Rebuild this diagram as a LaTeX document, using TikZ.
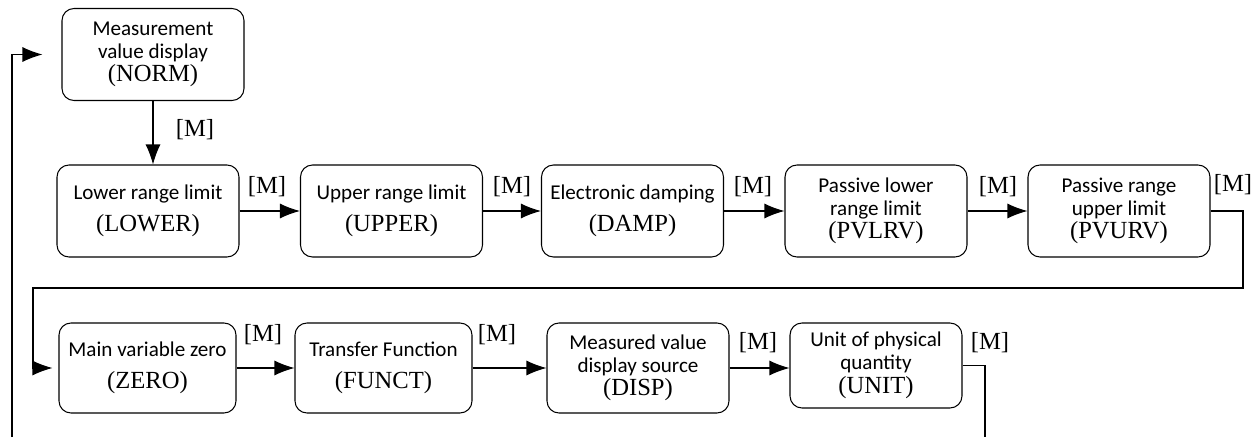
\documentclass[tikz,border=0pt]{standalone}
\usepackage{fontspec}
\setmainfont{Carlito}
\newfontfamily\codefont{Liberation Serif}
\usetikzlibrary{calc}
\usetikzlibrary{shapes,arrows.meta}

\newcommand{\modecode}[1]{{\codefont\fontsize{14}{13}\selectfont #1}}

\tikzset{
  menubox/.style={draw, line width=0.6pt, rounded corners=0.24cm,
    minimum width=3.64cm, minimum height=1.84cm, inner sep=2pt,
    align=center, font=\fontsize{12}{13}\selectfont},
  mlabel/.style={font=\codefont\fontsize{14}{16}\selectfont, inner sep=0pt},
  flow/.style={line width=0.6pt, -{Latex[length=0.4cm,width=0.3cm]}}
}

\begin{document}
\begin{tikzpicture}
    \useasboundingbox (0,0) rectangle (25.2,8.74);

    \node [menubox] (norm) at (3.06, 7.65) {Measurement\\value display\\\modecode{(NORM)}};

    \node [menubox] (lower) at (2.96, 4.52) {Lower range limit\\[5pt]\modecode{(LOWER)}};
    \node [menubox] (upper) at (7.83, 4.52) {Upper range limit\\[5pt]\modecode{(UPPER)}};
    \node [menubox] (damp) at (12.65, 4.52) {Electronic damping\\[5pt]\modecode{(DAMP)}};
    \node [menubox] (pvlrv) at (17.52, 4.52) {Passive lower\\range limit\\\modecode{(PVLRV)}};
    \node [menubox] (pvurv) at (22.38, 4.52) {Passive range\\upper limit\\\modecode{(PVURV)}};

    \node [menubox, minimum width=3.54cm, minimum height=1.80cm] (zero) at (2.95, 1.38) {Main variable zero\\[5pt]\modecode{(ZERO)}};
    \node [menubox, minimum width=3.54cm, minimum height=1.80cm] (funct) at (7.67, 1.38) {Transfer Function\\[5pt]\modecode{(FUNCT)}};
    \node [menubox, minimum height=1.80cm] (disp) at (12.76, 1.38) {Measured value\\display source\\\modecode{(DISP)}};
    \node [menubox, minimum width=3.44cm, minimum height=1.70cm] (unit) at (17.52, 1.43) {Unit of physical\\quantity\\[1pt]\modecode{(UNIT)}};

    \coordinate (R1) at (24.86, 2.98);
    \coordinate (R2) at (0.66, 2.98);
    \coordinate (B1) at (19.70, 0);
    \coordinate (B2) at (0.24, 0);

    \draw [flow] (norm.south) -- (norm.south |- lower.north);
    \draw [flow] (lower) -- (upper);
    \draw [flow] (upper) -- (damp);
    \draw [flow] (damp) -- (pvlrv);
    \draw [flow] (pvlrv) -- (pvurv);
    \draw [flow, shorten >=0.12cm] (pvurv.east) -| (R1) -- (R2) |- (zero.west);
    \draw [flow] (zero) -- (funct);
    \draw [flow] (funct) -- (disp);
    \draw [flow] (disp.east) -- (disp.east -| unit.west);
    \draw [line width=0.6pt] (unit.east) -| (B1);
    \draw [flow, shorten >=0.38cm] (B2) |- (norm.west);

    \node [mlabel] (m0) at (3.90, 6.14) {[M]};
    \node [mlabel] (m1) at (5.34, 5.00) {[M]};
    \node [mlabel] (m2) at (10.24, 5.00) {[M]};
    \node [mlabel] (m3) at (15.06, 5.00) {[M]};
    \node [mlabel] (m4) at (19.96, 5.00) {[M]};
    \node [mlabel] (m5) at (24.66, 5.04) {[M]};
    \node [mlabel] (m6) at (5.26, 2.04) {[M]};
    \node [mlabel] (m7) at (9.94, 2.04) {[M]};
    \node [mlabel] (m8) at (15.16, 1.88) {[M]};
    \node [mlabel] (m9) at (19.80, 1.88) {[M]};
\end{tikzpicture}
\end{document}
